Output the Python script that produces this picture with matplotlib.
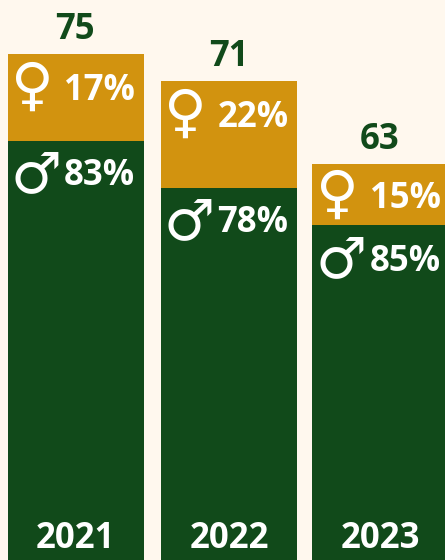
import numpy as np
import matplotlib
matplotlib.use('Agg')
import matplotlib.pyplot as plt

# Dados
anos = ['2021', '2022', '2023']
totais = [75, 71, 63]
pct_mulheres = [17, 22, 15]
pct_homens = [83, 78, 85]
# alturas desenhadas (a barra de 2023 nao esta em escala no original)
altura_homens = [62.1, 55.1, 49.65]
altura_mulheres = [12.9, 15.9, 9.05]

verde = '#114A1A'
dourado = '#D2930F'
fundo = '#FFF8EE'

fig = plt.figure(figsize=(4.45, 5.6), dpi=100, facecolor=fundo)
ax = fig.add_axes([0, 0, 1, 1])
ax.set_facecolor(fundo)
ax.axis('off')
ax.set_xlim(0, 445)
ax.set_ylim(0, 83)

x = np.array([76, 229, 380])
largura = 136
ax.bar(x, altura_homens, width=largura, color=verde, linewidth=0)
ax.bar(x, altura_mulheres, width=largura, bottom=altura_homens, color=dourado, linewidth=0)

fonte = dict(family='Open Sans', fontweight='bold', fontsize=25, va='baseline', ha='center')
simbolo = dict(family='DejaVu Sans', color='white', ha='center', va='baseline')
ajuste_x = [0, 0, 1.5]
ajuste_txt = [0, 1, 1]
ajuste_f = [0, 0, 2]
ajuste_m = [0, 0, -2]


def rotulo(xp, yp, dx, dy, texto, **kw):
    # deslocamento em pixels (dpi 100)
    ax.annotate(texto, (xp, yp), xytext=(dx * 0.72, dy * 0.72), textcoords='offset points', **kw)


for i in range(3):
    topo_h = altura_homens[i]
    topo = altura_homens[i] + altura_mulheres[i]
    a = ajuste_x[i]
    t = ajuste_txt[i]
    rotulo(x[i], topo, -1 + t, 15, str(totais[i]), color=verde, **fonte)
    rotulo(x[i], topo, 23 + a + t, -46 + ajuste_f[i], f'{pct_mulheres[i]}%', color='white', **fonte)
    rotulo(x[i], topo_h, 23 + a + t, -44 + ajuste_m[i], f'{pct_homens[i]}%', color='white', **fonte)
    rotulo(x[i], 0, -1 + t, 12, anos[i], color='white', **fonte)
    rotulo(x[i], topo, -44 + a, -49.5 + ajuste_f[i], '\u2640', fontsize=42, **simbolo)
    rotulo(x[i], topo_h, -40 + a, -51 + ajuste_m[i] / 2, '\u2642', fontsize=41, **simbolo)

fig.savefig('out.png', dpi=100, facecolor=fundo)
